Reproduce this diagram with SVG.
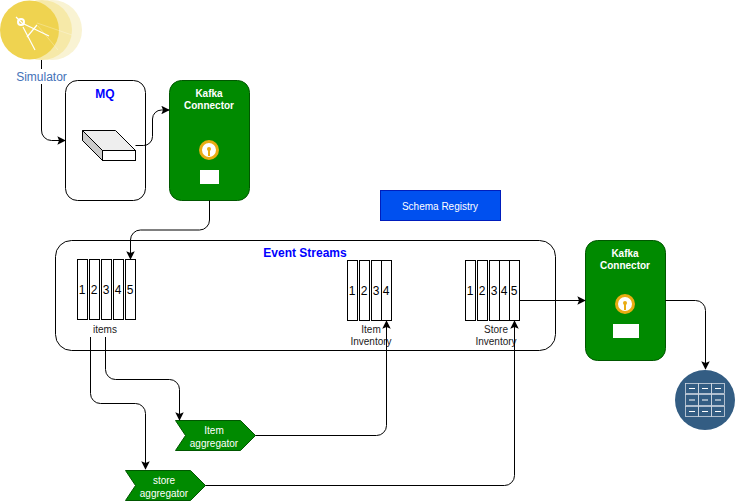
<svg xmlns="http://www.w3.org/2000/svg" width="736" height="501" viewBox="0 0 736 501">
<style>
text{font-family:"Liberation Sans",Arial,sans-serif;text-anchor:middle}
.c{fill:none;stroke:#000;stroke-width:1;marker-end:url(#a)}
.g{fill:#008a00;stroke:#005700}
.t{font-size:10px;font-weight:bold;fill:#fff}
.p{fill:#fff;stroke:#000}
.n{font-size:12px;fill:#000}
.l{font-size:10px;fill:#1a1a1a}
.w{fill:#fff;font-size:10px}
.b{font-size:12px;font-weight:bold;fill:#0000ff}
.cell{fill:none;stroke:#cfd8e2;stroke-width:.8}
.d{stroke:#fff;stroke-width:1}
</style>
<defs><marker id="a" viewBox="0 0 10 10" refX="9" refY="5" markerWidth="8.500" markerHeight="8.500" markerUnits="userSpaceOnUse" orient="auto"><path d="M0 0L10 5L0 10L2 5Z" fill="#000"/></marker></defs>
<rect width="736" height="501" fill="#fff"/>
<g id="simulator">
<circle cx="52" cy="30" r="30" fill="#f9f3d3"/>
<circle cx="42" cy="30" r="30" fill="#f6e9a8"/>
<circle cx="29.500" cy="30" r="29.500" fill="#efd350"/>
<g stroke="#fff" fill="none" stroke-width=".8" opacity=".35"><path d="M37 23L72 35M38 26L58 50"/></g>
<g stroke="#fff" fill="none" stroke-width="1.200"><circle cx="21" cy="22" r="3" stroke-width="2"/><path d="M16 17L24 25M24 24L49 36M23 27L35 50M27 37L37 25"/></g>
<text x="41.500" y="81" style="font-size:12px;fill:#4472b8">Simulator</text>
</g>
<g id="mq">
<rect x="65.500" y="80.500" width="80" height="120" rx="12" class="p"/>
<text x="105" y="98" class="b">MQ</text>
<path d="M82.500 130.500h33l20 20v10h-33l-20-20z" fill="#eee" stroke="#000"/>
<path d="M82.500 130.500l20 20v10l-20-20z" fill="#ccc" stroke="#000"/>
<rect x="102.500" y="150.500" width="33" height="10" fill="#fff" stroke="#000"/>
</g>
<g id="kafka1">
<rect x="169.500" y="80.500" width="80" height="120" rx="12" class="g"/>
<text x="209" y="97" class="t">Kafka</text>
<text x="209" y="109" class="t">Connector</text>
<circle cx="209" cy="150" r="8.500" fill="#fff" stroke="#e9ac13" stroke-width="3"/>
<path d="M209 150v6" stroke="#e9ac13" stroke-width="2"/><circle cx="209" cy="149" r="2" fill="#e9ac13"/>
<rect x="200" y="170" width="19" height="14" fill="#fff"/>
</g>
<g id="schema-registry">
<rect x="380.500" y="190.500" width="120" height="30" fill="#0050ef" stroke="#001dbc"/>
<text x="440" y="210" class="w">Schema Registry</text>
</g>
<g id="event-streams">
<rect x="55.500" y="240.500" width="500" height="110" rx="16" fill="#fff" stroke="#000"/>
<text x="305" y="257" class="b">Event Streams</text>
</g>
<g id="items">
<rect x="77.500" y="259.500" width="10" height="60" class="p"/><rect x="89.500" y="259.500" width="10" height="60" class="p"/><rect x="101.500" y="259.500" width="10" height="60" class="p"/><rect x="113.500" y="259.500" width="10" height="60" class="p"/><rect x="125.500" y="259.500" width="10" height="60" class="p"/>
<text x="82" y="294" class="n">1</text><text x="94" y="294" class="n">2</text><text x="106" y="294" class="n">3</text><text x="118" y="294" class="n">4</text><text x="130" y="294" class="n">5</text>
<text x="105" y="333" class="l">items</text>
</g>
<g id="item-inventory">
<rect x="347.500" y="260.500" width="10" height="60" class="p"/><rect x="359.500" y="260.500" width="10" height="60" class="p"/><rect x="371.500" y="260.500" width="10" height="60" class="p"/><rect x="381.500" y="260.500" width="10" height="60" class="p"/>
<text x="352" y="295" class="n">1</text><text x="364" y="295" class="n">2</text><text x="376" y="295" class="n">3</text><text x="386" y="295" class="n">4</text>
<text x="371" y="333" class="l">Item</text><text x="371" y="345" class="l">Inventory</text>
</g>
<g id="store-inventory">
<rect x="465.500" y="260.500" width="10" height="60" class="p"/><rect x="477.500" y="260.500" width="10" height="60" class="p"/><rect x="489.500" y="260.500" width="10" height="60" class="p"/><rect x="499.500" y="260.500" width="10" height="60" class="p"/><rect x="509.500" y="260.500" width="10" height="60" class="p"/>
<text x="470" y="295" class="n">1</text><text x="482" y="295" class="n">2</text><text x="494" y="295" class="n">3</text><text x="504" y="295" class="n">4</text><text x="514" y="295" class="n">5</text>
<text x="496" y="333" class="l">Store</text><text x="496" y="345" class="l">Inventory</text>
</g>
<g id="kafka2">
<rect x="585.500" y="240.500" width="80" height="120" rx="12" class="g"/>
<text x="625" y="257" class="t">Kafka</text>
<text x="625" y="269" class="t">Connector</text>
<circle cx="625" cy="304" r="8.500" fill="#fff" stroke="#e9ac13" stroke-width="3"/>
<path d="M625 304v6" stroke="#e9ac13" stroke-width="2"/><circle cx="625" cy="303" r="2" fill="#e9ac13"/>
<rect x="613" y="324" width="26" height="14" fill="#fff"/>
</g>
<g id="database">
<circle cx="705" cy="400" r="30" fill="#335d83"/>
<g class="cell"><rect x="685.500" y="383.500" width="13" height="10"/><rect x="698.500" y="383.500" width="13" height="10"/><rect x="711.500" y="383.500" width="13" height="10"/><rect x="685.500" y="394.500" width="13" height="11"/><rect x="698.500" y="394.500" width="13" height="11"/><rect x="711.500" y="394.500" width="13" height="11"/><rect x="685.500" y="406.500" width="13" height="10"/><rect x="698.500" y="406.500" width="13" height="10"/><rect x="711.500" y="406.500" width="13" height="10"/></g>
<path class="d" d="M689 388.500h6M702 388.500h6M715 388.500h6M689 400h6M702 400h6M715 400h6M689 411.500h6M702 411.500h6M715 411.500h6"/>
</g>
<g id="item-aggregator">
<path d="M175.500 420.500h65l15 15l-15 15h-65l10-15z" class="g"/>
<text x="214" y="434" class="w">Item</text><text x="214" y="447" class="w">aggregator</text>
</g>
<g id="store-aggregator">
<path d="M125.500 470.500h65l15 15l-15 15h-65l10-15z" class="g"/>
<text x="164" y="484" class="w">store</text><text x="164" y="497" class="w">aggregator</text>
</g>
<g id="connectors">
<path class="c" d="M41.500 60V69M41.500 84V130a10 10 0 0 0 10 10.500H65"/>
<path class="c" d="M135.500 145.500h8a9 9 0 0 0 9-9V119a9 9 0 0 1 9-9H169"/>
<path class="c" d="M209.500 200.500V220a10 10 0 0 1-10 10H140.500a10 10 0 0 0-10 10V259"/>
<path class="c" d="M90.500 337V393.500a10 10 0 0 0 10 10H135.500a10 10 0 0 1 10 10V469"/>
<path class="c" d="M105.500 337V369.500a10 10 0 0 0 10 10H169.500a10 10 0 0 1 10 10V420"/>
<path class="c" d="M255.500 435.500H376.500a10 10 0 0 0 10-10V321"/>
<path class="c" d="M205.500 485.500H504.500a10 10 0 0 0 10-10V321"/>
<path class="c" d="M519.500 300.500H585"/>
<path class="c" d="M665.500 300.500H695.500a10 10 0 0 1 10 10V369"/>
</g>
</svg>
